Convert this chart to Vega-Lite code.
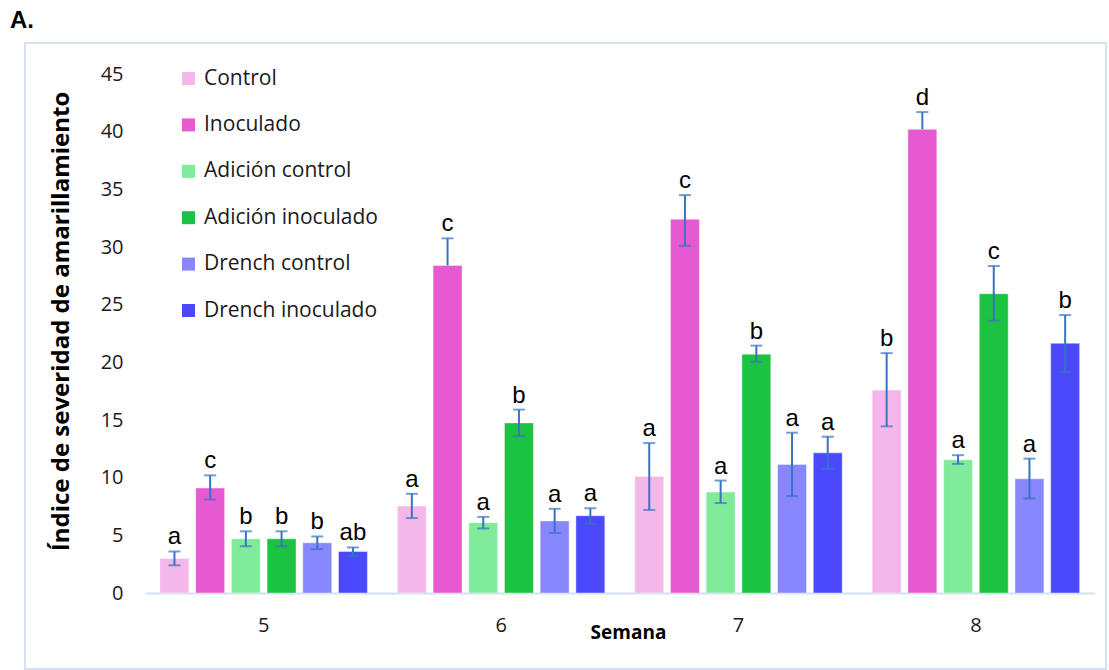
{
  "$schema": "https://vega.github.io/schema/vega-lite/v6.json",
  "autosize": {"type": "none"},
  "padding": {"left": 25, "top": 43, "right": 3, "bottom": 1},
  "width": 1081,
  "height": 626,
  "background": "white",
  "title": {
    "text": "A.",
    "anchor": "start",
    "frame": "group",
    "dx": -15,
    "dy": 22,
    "offset": 13,
    "baseline": "alphabetic",
    "font": "Liberation Sans",
    "fontSize": 24,
    "fontWeight": "bold",
    "color": "#000000"
  },
  "config": {
    "view": {"stroke": "#d4e2f3", "strokeWidth": 2},
    "font": "Open Sans"
  },
  "data": {
    "values": [
      {"semana": "5", "tratamiento": "Control", "valor": 3.0, "err_hi": 3.6, "err_lo": 2.4, "letra": "a"},
      {"semana": "5", "tratamiento": "Inoculado", "valor": 9.1, "err_hi": 10.2, "err_lo": 8.1, "letra": "c"},
      {"semana": "5", "tratamiento": "Adición control", "valor": 4.7, "err_hi": 5.35, "err_lo": 4.05, "letra": "b"},
      {"semana": "5", "tratamiento": "Adición inoculado", "valor": 4.7, "err_hi": 5.35, "err_lo": 4.05, "letra": "b"},
      {"semana": "5", "tratamiento": "Drench control", "valor": 4.35, "err_hi": 4.9, "err_lo": 3.8, "letra": "b"},
      {"semana": "5", "tratamiento": "Drench inoculado", "valor": 3.6, "err_hi": 3.95, "err_lo": 3.2, "letra": "ab"},
      {"semana": "6", "tratamiento": "Control", "valor": 7.55, "err_hi": 8.6, "err_lo": 6.5, "letra": "a"},
      {"semana": "6", "tratamiento": "Inoculado", "valor": 28.4, "err_hi": 30.75, "err_lo": 28.4, "letra": "c"},
      {"semana": "6", "tratamiento": "Adición control", "valor": 6.1, "err_hi": 6.6, "err_lo": 5.6, "letra": "a"},
      {"semana": "6", "tratamiento": "Adición inoculado", "valor": 14.75, "err_hi": 15.9, "err_lo": 13.6, "letra": "b"},
      {"semana": "6", "tratamiento": "Drench control", "valor": 6.25, "err_hi": 7.3, "err_lo": 5.2, "letra": "a"},
      {"semana": "6", "tratamiento": "Drench inoculado", "valor": 6.7, "err_hi": 7.35, "err_lo": 6.0, "letra": "a"},
      {"semana": "7", "tratamiento": "Control", "valor": 10.1, "err_hi": 13.0, "err_lo": 7.2, "letra": "a"},
      {"semana": "7", "tratamiento": "Inoculado", "valor": 32.4, "err_hi": 34.5, "err_lo": 30.1, "letra": "c"},
      {"semana": "7", "tratamiento": "Adición control", "valor": 8.75, "err_hi": 9.75, "err_lo": 7.8, "letra": "a"},
      {"semana": "7", "tratamiento": "Adición inoculado", "valor": 20.7, "err_hi": 21.45, "err_lo": 20.05, "letra": "b"},
      {"semana": "7", "tratamiento": "Drench control", "valor": 11.15, "err_hi": 13.9, "err_lo": 8.4, "letra": "a"},
      {"semana": "7", "tratamiento": "Drench inoculado", "valor": 12.15, "err_hi": 13.55, "err_lo": 10.75, "letra": "a"},
      {"semana": "8", "tratamiento": "Control", "valor": 17.6, "err_hi": 20.8, "err_lo": 14.45, "letra": "b"},
      {"semana": "8", "tratamiento": "Inoculado", "valor": 40.2, "err_hi": 41.7, "err_lo": 40.2, "letra": "d"},
      {"semana": "8", "tratamiento": "Adición control", "valor": 11.55, "err_hi": 11.95, "err_lo": 11.2, "letra": "a"},
      {"semana": "8", "tratamiento": "Adición inoculado", "valor": 25.95, "err_hi": 28.35, "err_lo": 23.6, "letra": "c"},
      {"semana": "8", "tratamiento": "Drench control", "valor": 9.9, "err_hi": 11.65, "err_lo": 8.2, "letra": "a"},
      {"semana": "8", "tratamiento": "Drench inoculado", "valor": 21.65, "err_hi": 24.1, "err_lo": 19.15, "letra": "b"}
    ]
  },
  "encoding": {
    "x": {
      "field": "semana",
      "type": "nominal",
      "scale": {"range": [120, 1069.6], "paddingInner": 0, "paddingOuter": 0},
      "axis": {
        "title": "Semana",
        "titleFont": "Open Sans",
        "titleFontSize": 19,
        "titleFontWeight": "bold",
        "titleColor": "#000000",
        "titleX": 603,
        "titleY": 39,
        "titleBaseline": "middle",
        "labelAngle": 0,
        "labelFont": "Open Sans",
        "labelFontSize": 20,
        "labelColor": "#1a1a1a",
        "labelPadding": 22,
        "ticks": false,
        "domainColor": "#d4e0ef",
        "domainWidth": 2,
        "offset": -76
      }
    },
    "xOffset": {
      "field": "tratamiento",
      "type": "nominal",
      "sort": ["Control", "Inoculado", "Adición control", "Adición inoculado", "Drench control", "Drench inoculado"],
      "scale": {"paddingInner": 0.19, "paddingOuter": 0.42}
    }
  },
  "layer": [
    {
      "mark": {"type": "bar", "stroke": "white", "strokeWidth": 1, "strokeOpacity": 0.4},
      "encoding": {
        "y": {
          "field": "valor",
          "type": "quantitative",
          "scale": {"domain": [0, 45], "range": [550, 31], "nice": false, "zero": true},
          "axis": {
            "title": "Índice de severidad de amarillamiento",
            "titleFont": "Open Sans",
            "titleFontSize": 24,
            "titleFontWeight": "bold",
            "titleColor": "#000000",
            "titlePadding": 27,
            "titleY": 278,
            "titleAlign": "center",
            "values": [0, 5, 10, 15, 20, 25, 30, 35, 40, 45],
            "labelFont": "Open Sans",
            "labelFontSize": 20,
            "labelColor": "#1a1a1a",
            "labelPadding": 22,
            "ticks": false,
            "domain": false,
            "grid": false,
            "offset": -120
          }
        },
        "color": {
          "field": "tratamiento",
          "type": "nominal",
          "sort": ["Control", "Inoculado", "Adición control", "Adición inoculado", "Drench control", "Drench inoculado"],
          "scale": {
            "domain": ["Control", "Inoculado", "Adición control", "Adición inoculado", "Drench control", "Drench inoculado"],
            "range": ["#f4b7e9", "#e659d0", "#80ec9a", "#1cc241", "#8787fb", "#4a4afc"]
          },
          "legend": {
            "title": null,
            "orient": "none",
            "legendX": 153,
            "legendY": 25,
            "direction": "vertical",
            "symbolType": "square",
            "symbolSize": 169,
            "symbolStrokeWidth": 0,
            "symbolOpacity": 1,
            "labelFont": "Open Sans",
            "labelFontSize": 21,
            "labelColor": "#1a1a1a",
            "labelOffset": 5,
            "rowPadding": 24.4,
            "labelLimit": 400
          }
        }
      }
    },
    {
      "mark": {"type": "rule", "color": "#3a72c4", "strokeWidth": 2},
      "encoding": {
        "y": {"field": "err_lo", "type": "quantitative"},
        "y2": {"field": "err_hi"}
      }
    },
    {
      "mark": {"type": "tick", "color": "#3a72c4", "thickness": 2, "size": 12, "orient": "horizontal"},
      "encoding": {
        "y": {"field": "err_hi", "type": "quantitative"}
      }
    },
    {
      "transform": [{"filter": "datum.err_lo < datum.valor"}],
      "mark": {"type": "tick", "color": "#3a72c4", "thickness": 2, "size": 12, "orient": "horizontal"},
      "encoding": {
        "y": {"field": "err_lo", "type": "quantitative"}
      }
    },
    {
      "mark": {"type": "text", "font": "Liberation Sans", "fontSize": 24, "color": "#000000", "baseline": "alphabetic", "align": "center", "dy": -7},
      "encoding": {
        "y": {"field": "err_hi", "type": "quantitative"},
        "text": {"field": "letra"}
      }
    }
  ]
}
